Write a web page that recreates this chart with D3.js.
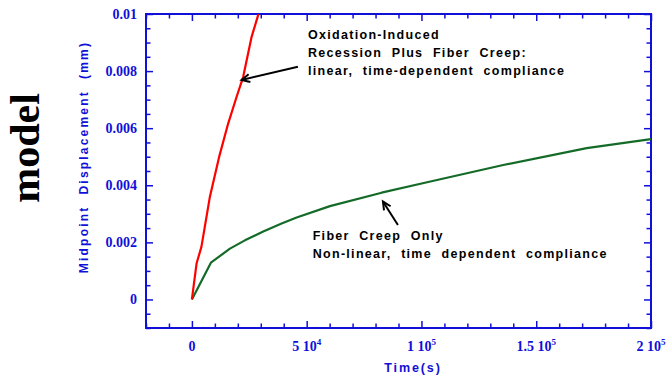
<!DOCTYPE html>
<html><head><meta charset="utf-8">
<script src="https://cdn.jsdelivr.net/npm/d3@7"></script>
<style>body{margin:0;background:#fff}</style>
</head><body>
<svg id="c" width="670" height="375"></svg>
<script>
// ---- data ----
const redTime  = [0, 2050, 4140, 7840, 11980, 15820, 19480, 22350, 26010, 28890, 30500];
const redDisp  = [0, 0.00127, 0.00184, 0.0036, 0.00503, 0.00617, 0.0071, 0.0078, 0.0092, 0.00997, 0.0105];
const greenTime = [0, 8280, 16560, 23090, 31070, 39080, 45620, 60130, 82650, 101500, 135640, 171980, 200000];
const greenDisp = [0, 0.00129, 0.00178, 0.00207, 0.00238, 0.00266, 0.00287, 0.00327, 0.00374, 0.00409, 0.00471, 0.0053, 0.00562];
const xMajor = [0, 50000, 100000, 150000, 200000];
const xMantissa = ["0", "5", "1", "1.5", "2"];
const xExponent = ["", "4", "5", "5", "5"];
const yMajor = [0, 0.002, 0.004, 0.006, 0.008, 0.01];
const yLabels = ["0", "0.002", "0.004", "0.006", "0.008", "0.01"];
const xTitle = "Time(s)";
const yTitle = "Midpoint  Displacement  (mm)";
const sideTitle = "model";
const note1 = ["Oxidation-Induced", "Recession  Plus  Fiber  Creep:", "linear,  time-dependent  compliance"];
const note2 = ["Fiber  Creep  Only", "Non-linear,  time  dependent  compliance"];

// ---- layout ----
const svg = d3.select("#c");
const L = 146, R = 651, T = 14, B = 328;
const blue = "#1010d8";
const x = d3.scaleLinear().domain([-20000, 200000]).range([L, R]);
const y = d3.scaleLinear().domain([-0.001, 0.01]).range([B, T]);

svg.append("defs").append("clipPath").attr("id", "clip")
  .append("rect").attr("x", L).attr("y", T).attr("width", R - L).attr("height", B - T);

const xMinor = d3.range(-20000, 200001, 10000).filter(v => !xMajor.includes(v));
const yMinor = d3.range(-10, 101, 5).map(v => v / 10000).filter(v => !yMajor.some(m => Math.abs(m - v) < 1e-9));

const MAJ = 7, MIN = 4.5;
function axisTicks(axisGen, major, minor, g) {
  g.call(axisGen.tickValues(major).tickSize(-MAJ).tickFormat(""));
  g.append("g").call(axisGen.tickValues(minor).tickSize(-MIN).tickFormat(""));
}
const gx = svg.append("g").attr("transform", `translate(0,${B})`);
axisTicks(d3.axisBottom(x), xMajor, xMinor, gx);
const gxt = svg.append("g").attr("transform", `translate(0,${T})`);
axisTicks(d3.axisTop(x), xMajor, xMinor, gxt);
const gy = svg.append("g").attr("transform", `translate(${L},0)`);
axisTicks(d3.axisLeft(y), yMajor, yMinor, gy);
const gyr = svg.append("g").attr("transform", `translate(${R},0)`);
axisTicks(d3.axisRight(y), yMajor, yMinor, gyr);
svg.selectAll(".domain").remove();
svg.selectAll(".tick line").attr("stroke", blue).attr("stroke-width", 1.5);

// frame
svg.append("rect").attr("x", L).attr("y", T).attr("width", R - L).attr("height", B - T)
  .attr("fill", "none").attr("stroke", blue).attr("stroke-width", 2);

// tick labels
const serif = "'Liberation Serif','Times New Roman',serif";
const sans = "'Liberation Sans',Arial,sans-serif";
const xl = svg.append("g").attr("font-family", serif).attr("font-weight", "bold")
  .attr("font-size", 14).attr("fill", blue).attr("text-anchor", "middle");
xMajor.forEach((v, i) => {
  const t = xl.append("text").attr("x", x(v)).attr("y", 351);
  if (xExponent[i]) {
    t.append("tspan").text(xMantissa[i] + " 10");
    t.append("tspan").attr("font-size", 9).attr("dy", -6).text(xExponent[i]);
  } else t.text(xMantissa[i]);
});
const yl = svg.append("g").attr("font-family", serif).attr("font-weight", "bold")
  .attr("font-size", 14).attr("fill", blue).attr("text-anchor", "end");
yMajor.forEach((v, i) => {
  yl.append("text").attr("x", 137).attr("y", y(v)).attr("dy", "0.35em").text(yLabels[i]);
});

// titles
svg.append("text").attr("x", 413).attr("y", 372).attr("text-anchor", "middle")
  .attr("font-family", sans).attr("font-weight", "bold").attr("font-size", 12.5)
  .attr("letter-spacing", 1.9).attr("fill", blue).text(xTitle);
svg.append("text").attr("transform", "translate(88,157) rotate(-90)").attr("text-anchor", "middle")
  .attr("font-family", sans).attr("font-weight", "bold").attr("font-size", 12)
  .attr("letter-spacing", 2.2).attr("fill", blue).style("white-space", "pre").text(yTitle);
svg.append("text").attr("transform", "translate(39,148) rotate(-90)").attr("text-anchor", "middle")
  .attr("font-family", serif).attr("font-weight", "bold").attr("font-size", 42)
  .attr("fill", "#000").text(sideTitle);

// curves
const line = d3.line().x(d => x(d[0])).y(d => y(d[1]));
const plot = svg.append("g").attr("clip-path", "url(#clip)");
plot.append("path").datum(greenTime.map((t, i) => [t, greenDisp[i]]))
  .attr("d", line).attr("fill", "none").attr("stroke", "#146b28").attr("stroke-width", 2.2)
  .attr("stroke-linejoin", "round");
plot.append("path").datum(redTime.map((t, i) => [t, redDisp[i]]))
  .attr("d", line).attr("fill", "none").attr("stroke", "#ff0000").attr("stroke-width", 2.2)
  .attr("stroke-linejoin", "round");

// annotations
function arrow(from, to) {
  const x1 = x(from[0]), y1 = y(from[1]), x2 = x(to[0]), y2 = y(to[1]);
  const a = Math.atan2(y2 - y1, x2 - x1), h = 9, w = 0.45;
  svg.append("line").attr("x1", x1).attr("y1", y1).attr("x2", x2).attr("y2", y2)
    .attr("stroke", "#000").attr("stroke-width", 2);
  const p = [[x2 - h * Math.cos(a - w), y2 - h * Math.sin(a - w)], [x2, y2],
             [x2 - h * Math.cos(a + w), y2 - h * Math.sin(a + w)]];
  svg.append("path").attr("d", d3.line()(p)).attr("fill", "none")
    .attr("stroke", "#000").attr("stroke-width", 2);
}
arrow([46180, 0.00815], [21650, 0.00769]);
arrow([89750, 0.00261], [83220, 0.00343]);

function note(lines, x0, y0) {
  const g = svg.append("g").attr("font-family", sans).attr("font-weight", "bold")
    .attr("font-size", 12.5).attr("letter-spacing", 1.3).attr("fill", "#000");
  lines.forEach((s, i) => g.append("text").attr("x", x0).attr("y", y0 + i * 17.7)
    .style("white-space", "pre").text(s));
}
note(note1, 308, 39.3);
note(note2, 312.7, 240);
</script>
</body></html>
